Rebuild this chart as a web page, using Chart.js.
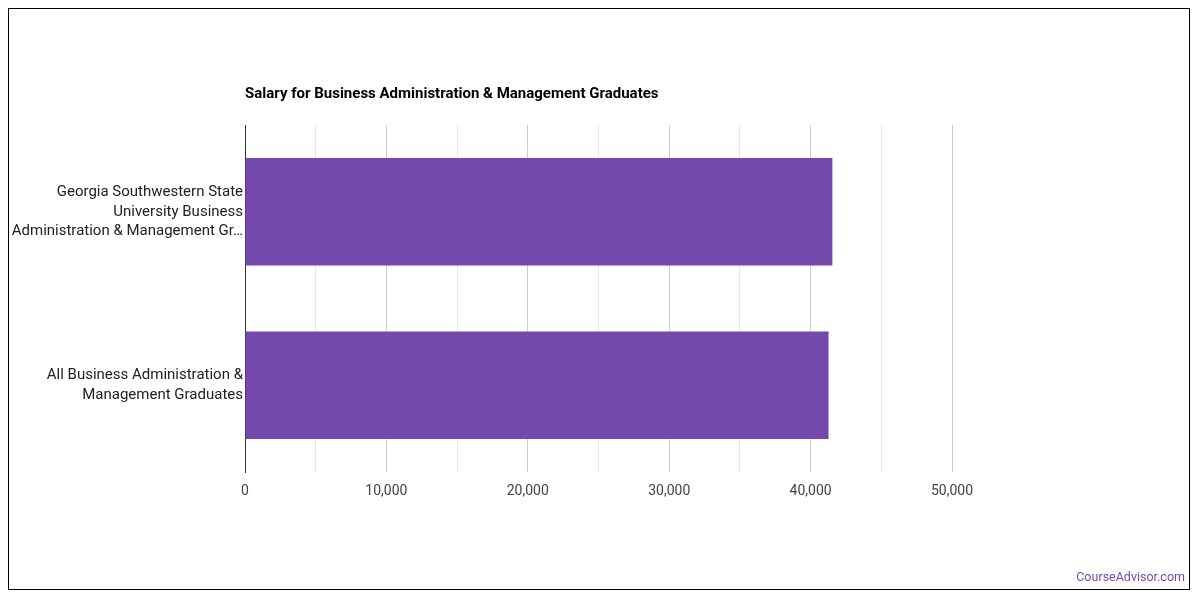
<!DOCTYPE html>
<html>
<head>
<meta charset="utf-8">
<script src="https://cdn.jsdelivr.net/npm/chart.js@4"></script>
<style>
  html, body { margin: 0; padding: 0; background: #fff; }
  #wrap { width: 1200px; height: 600px; position: relative; }
</style>
</head>
<body>
<div id="wrap"><canvas id="salaryChart"></canvas></div>
<script>
// chart data
const chartTitle = 'Salary for Business Administration & Management Graduates';
const categories = [
    ['Georgia Southwestern State', 'University Business', 'Administration & Management Gr…'],
    ['All Business Administration &', 'Management Graduates']
];
const salaries = [41540, 41270];
const xMin = 0;
const xMax = 50000;
const xStep = 5000;
const brandText = 'CourseAdvisor.com';

const BAR_COLOR = '#7448ad';

// frame, title and watermark drawn on the canvas
const decorations = {
    id: 'decorations',
    afterDraw(chart) {
        const ctx = chart.ctx;
        const area = chart.chartArea;
        ctx.save();
        ctx.strokeStyle = '#000';
        ctx.lineWidth = 1;
        ctx.strokeRect(8.5, 8.5, 1181, 581);

        ctx.fillStyle = '#000';
        ctx.font = 'bold 15px Roboto';
        ctx.textAlign = 'left';
        ctx.textBaseline = 'middle';
        ctx.fillText(chartTitle, area.left, 94.5);

        ctx.fillStyle = '#7449ae';
        ctx.font = '12.5px Roboto';
        ctx.textAlign = 'right';
        ctx.fillText(brandText, 1185, 577.5);
        ctx.restore();
    }
};

const ctx = document.getElementById('salaryChart').getContext('2d');
new Chart(ctx, {
    type: 'bar',
    data: {
        labels: categories,
        datasets: [{
            label: 'Salary',
            data: salaries,
            backgroundColor: BAR_COLOR,
            borderWidth: 0,
            categoryPercentage: 0.62,
            barPercentage: 1
        }]
    },
    options: {
        indexAxis: 'y',
        responsive: true,
        maintainAspectRatio: false,
        animation: false,
        layout: { padding: { left: 0, right: 248, top: 125, bottom: 88 } },
        plugins: {
            legend: { display: false },
            title: { display: false },
            tooltip: { enabled: false }
        },
        scales: {
            x: {
                min: xMin,
                max: xMax,
                border: { display: false },
                grid: {
                    drawTicks: false,
                    color: function(c) {
                        const v = c.tick ? c.tick.value : 0;
                        if (v === 0) return '#333';
                        return v % 10000 === 0 ? '#cccccc' : '#e8e8e8';
                    }
                },
                ticks: {
                    stepSize: xStep,
                    padding: 11,
                    autoSkip: false,
                    maxRotation: 0,
                    color: '#444',
                    font: { family: 'Roboto', size: 14 },
                    callback: function(value) {
                        return value % 10000 === 0 ? value.toLocaleString('en-US') : '';
                    }
                },
                afterFit(scale) { scale.height = 40; }
            },
            y: {
                border: { display: true, color: '#333', width: 1 },
                grid: { display: false, drawTicks: false },
                ticks: {
                    padding: 2,
                    color: '#222',
                    font: { family: 'Roboto', size: 15, lineHeight: 1.33 }
                },
                afterFit(scale) { scale.width = 245; }
            }
        }
    },
    plugins: [decorations]
});
</script>
</body>
</html>
